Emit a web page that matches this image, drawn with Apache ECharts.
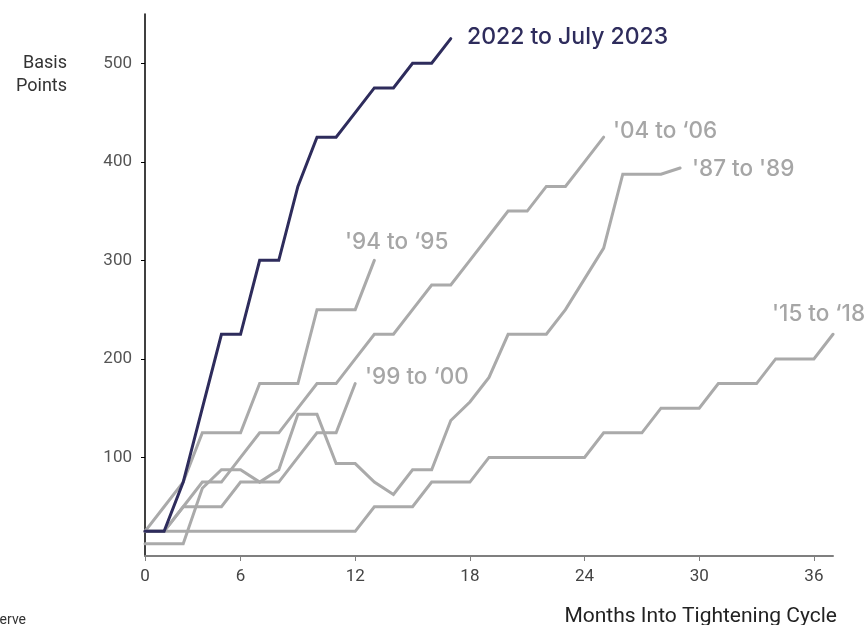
<!DOCTYPE html>
<html>
<head>
<meta charset="utf-8">
<script src="https://cdn.jsdelivr.net/npm/echarts@6/dist/echarts.min.js"></script>
<style>
  html, body { margin: 0; padding: 0; background: #ffffff; }
  #chart { width: 868px; height: 625px; }
</style>
</head>
<body>
<div id="chart"></div>
<script>
// Months into tightening cycle (first observation is month 1, drawn at the axis origin labelled 0)
const xTickValues = [1, 6, 12, 18, 24, 30, 36];
const xTickLabels = ['0', '6', '12', '18', '24', '30', '36'];
const yTickValues = [100, 200, 300, 400, 500];
const yTickLabels = ['100', '200', '300', '400', '500'];

// Cumulative basis points of tightening, one value per month starting at month 1
const cycle2022 = [25, 25, 75, 150, 225, 225, 300, 300, 375, 425, 425, 450, 475, 475, 500, 500, 525];
const cycle94 = [25, 50, 75, 125, 125, 125, 175, 175, 175, 250, 250, 250, 300];
const cycle99 = [25, 25, 50, 50, 50, 75, 75, 75, 100, 125, 125, 175];
const cycle04 = [25, 25, 50, 75, 75, 100, 125, 125, 150, 175, 175, 200, 225, 225, 250, 275, 275, 300, 325, 350, 350, 375, 375, 400, 425];
const cycle87 = [12.5, 12.5, 12.5, 68.75, 87.5, 87.5, 75, 87.5, 143.75, 143.75, 93.75, 93.75, 75, 62.5, 87.5, 87.5, 137.5, 156.25, 181.25, 225, 225, 225, 250, 281.25, 312.5, 387.5, 387.5, 387.5, 393.75];
const cycle15 = [25, 25, 25, 25, 25, 25, 25, 25, 25, 25, 25, 25, 50, 50, 50, 75, 75, 75, 100, 100, 100, 100, 100, 100, 125, 125, 125, 150, 150, 150, 175, 175, 175, 200, 200, 200, 225];

const seriesNames = ['2022 to July 2023', "'94 to \u201895", "'99 to \u201800", "'04 to \u201806", "'87 to '89", "'15 to \u201818"];

const toPairs = vals => vals.map((v, i) => [i + 1, v]);

const DARK = '#2e2c5c';
const GRAY = '#aaaaaa';
const LABEL_GRAY = '#a6a6a6';
const LABEL_FONT = 'Inter, "Noto Sans", sans-serif';
const TEXT_FONT = 'Roboto, "Noto Sans", sans-serif';

const chart = echarts.init(document.getElementById('chart'), null, { renderer: 'canvas' });

function line(name, vals, color, z) {
  return {
    name: name,
    type: 'line',
    data: toPairs(vals),
    showSymbol: false,
    symbol: 'none',
    z: z,
    lineStyle: { color: color, width: 3, cap: 'round', join: 'miter' },
    emphasis: { disabled: true },
    animation: false
  };
}

function label(text, x, y, color, size) {
  return { type: 'text', x: x, y: y, z: 10, style: { text: text, fill: color, font: '500 ' + size + 'px ' + LABEL_FONT, textVerticalAlign: 'middle' } };
}

const option = {
  backgroundColor: '#ffffff',
  animation: false,
  grid: { left: 145, right: 35, top: 14, bottom: 69, containLabel: false },
  xAxis: {
    type: 'value',
    min: 1,
    max: 37,
    axisLine: { show: true, onZero: false, lineStyle: { color: '#7f7f7f', width: 2 } },
    axisTick: { show: true, length: 5, lineStyle: { color: '#7f7f7f', width: 1 }, customValues: xTickValues },
    axisLabel: {
      customValues: xTickValues,
      formatter: v => xTickLabels[xTickValues.indexOf(v)],
      color: '#444444',
      fontFamily: TEXT_FONT,
      fontSize: 17,
      margin: 12
    },
    splitLine: { show: false }
  },
  yAxis: {
    type: 'value',
    min: 0,
    max: 550,
    axisLine: { show: true, lineStyle: { color: '#000000', width: 1.5 } },
    axisTick: { show: true, length: 4, lineStyle: { color: '#000000', width: 1 }, customValues: yTickValues },
    axisLabel: {
      customValues: yTickValues,
      formatter: v => yTickLabels[yTickValues.indexOf(v)],
      color: '#555555',
      fontFamily: TEXT_FONT,
      fontSize: 17,
      margin: 13
    },
    splitLine: { show: false }
  },
  series: [
    line(seriesNames[1], cycle94, GRAY, 2),
    line(seriesNames[2], cycle99, GRAY, 2),
    line(seriesNames[3], cycle04, GRAY, 2),
    line(seriesNames[4], cycle87, GRAY, 2),
    line(seriesNames[5], cycle15, GRAY, 2),
    line(seriesNames[0], cycle2022, DARK, 5)
  ],
  graphic: [
    label(seriesNames[0], 467, 37, DARK, 23),
    label(seriesNames[1], 345, 242, LABEL_GRAY, 22.5),
    label(seriesNames[2], 365, 377, LABEL_GRAY, 22.5),
    label(seriesNames[3], 613, 131, LABEL_GRAY, 22.5),
    label(seriesNames[4], 692, 169, LABEL_GRAY, 22.5),
    label(seriesNames[5], 772, 314, LABEL_GRAY, 22.5),
    { type: 'text', x: 67, y: 63, style: { text: 'Basis', fill: '#333333', font: '18px ' + TEXT_FONT, textAlign: 'right', textVerticalAlign: 'middle' } },
    { type: 'text', x: 67, y: 86, style: { text: 'Points', fill: '#333333', font: '18px ' + TEXT_FONT, textAlign: 'right', textVerticalAlign: 'middle' } },
    { type: 'text', x: 837, y: 617, style: { text: 'Months Into Tightening Cycle', fill: '#222222', font: '21px ' + TEXT_FONT, textAlign: 'right', textVerticalAlign: 'middle' } },
    { type: 'text', x: 26, y: 620, style: { text: 'Source: Federal Reserve', fill: '#333333', font: '14px ' + TEXT_FONT, textAlign: 'right', textVerticalAlign: 'middle' } }
  ]
};

chart.setOption(option);
</script>
</body>
</html>
